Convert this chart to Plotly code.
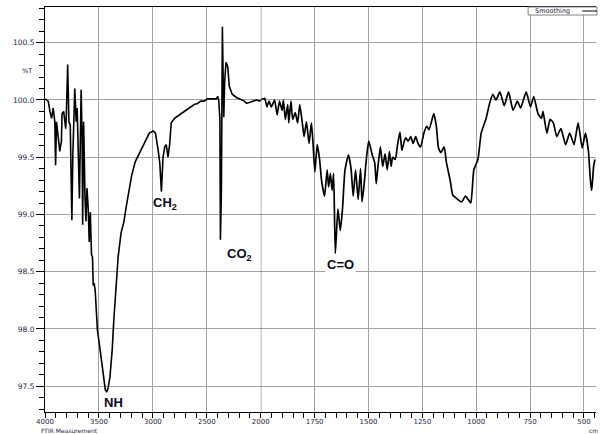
import plotly.graph_objects as go

# Segment 1 (4000-2000 cm-1)
wn_hi = [4000, 3970, 3954, 3939, 3924, 3909, 3902, 3893, 3879, 3863, 3848, 3842, 3827, 3808, 3802,
         3790, 3778, 3766, 3751, 3742, 3724, 3711, 3702, 3687, 3681, 3665, 3656, 3651, 3642, 3629,
         3620, 3611, 3599, 3590, 3580, 3569, 3560, 3553, 3545, 3535, 3523, 3514, 3498, 3483, 3468,
         3453, 3441, 3428, 3416, 3398, 3377, 3362, 3346, 3322, 3295, 3270, 3252, 3225, 3197, 3164,
         3118, 3073, 3033, 2997, 2976, 2951, 2936, 2921, 2906, 2890, 2876, 2860, 2845, 2830, 2799,
         2769, 2739, 2708, 2678, 2648, 2617, 2586, 2556, 2525, 2495, 2465, 2434, 2413, 2398, 2389,
         2379, 2374, 2365, 2356, 2347, 2343, 2334, 2322, 2306, 2292, 2265, 2242, 2222, 2199, 2176,
         2153, 2131, 2103, 2069, 2039, 2009, 2000]
t_hi = [100.01, 99.99, 99.90, 99.84, 99.93, 99.81, 99.43, 99.81, 99.69, 99.55, 99.64, 99.88, 99.90, 99.75, 99.87,
        100.31, 99.81, 99.78, 98.95, 99.52, 100.10, 99.81, 99.93, 99.29, 99.14, 100.09, 99.67, 98.91, 99.81, 99.14,
        98.94, 99.23, 99.05, 98.76, 99.02, 98.65, 98.63, 98.38, 98.40, 98.34, 98.11, 97.99, 97.88, 97.77, 97.64,
        97.54, 97.47, 97.45, 97.48, 97.58, 97.82, 98.08, 98.34, 98.63, 98.84, 98.93, 99.04, 99.20, 99.34, 99.46,
        99.55, 99.64, 99.71, 99.73, 99.71, 99.56, 99.45, 99.20, 99.50, 99.59, 99.61, 99.50, 99.61, 99.80, 99.84,
        99.86, 99.88, 99.90, 99.92, 99.94, 99.96, 99.97, 99.99, 99.99, 100.01, 100.01, 100.01, 100.01, 100.03, 99.99,
        99.83, 98.78, 99.21, 100.64, 100.09, 99.85, 100.17, 100.33, 100.29, 100.12, 100.05, 100.03, 100.02, 100.01, 100.00,
        99.99, 99.97, 99.98, 99.99, 100.00, 99.99, 100.00]

# Segment 2 (2000-444 cm-1)
wn_lo = [2000, 1990, 1982, 1971, 1962, 1951, 1936, 1924, 1913, 1901, 1895, 1886, 1875, 1870, 1860,
         1852, 1840, 1829, 1819, 1806, 1799, 1788, 1776, 1765, 1758, 1749, 1738, 1727, 1718, 1704,
         1692, 1685, 1677, 1669, 1662, 1654, 1642, 1631, 1621, 1609, 1593, 1581, 1571, 1560, 1548,
         1537, 1530, 1520, 1509, 1499, 1484, 1471, 1464, 1456, 1445, 1434, 1423, 1413, 1403, 1395,
         1388, 1376, 1365, 1354, 1345, 1334, 1327, 1316, 1304, 1293, 1281, 1270, 1258, 1243, 1230,
         1219, 1197, 1185, 1175, 1164, 1149, 1138, 1121, 1109, 1091, 1068, 1050, 1037, 1025, 1011,
         992, 977, 954, 938, 923, 908, 890, 870, 850, 829, 809, 794, 768, 748, 733,
         713, 697, 690, 672, 657, 642, 626, 607, 585, 566, 546, 527, 508, 493, 479,
         470, 464, 455, 449]
t_lo = [100.00, 100.01, 100.015, 99.94, 99.99, 99.94, 100.00, 99.87, 99.99, 99.91, 100.00, 99.83, 99.96, 99.80, 99.99,
        99.83, 99.89, 99.80, 99.96, 99.78, 99.68, 99.81, 99.62, 99.80, 99.64, 99.37, 99.61, 99.48, 99.30, 99.16,
        99.39, 99.24, 99.36, 99.21, 99.36, 98.66, 99.05, 98.86, 99.04, 99.39, 99.52, 99.40, 99.16, 99.39, 99.13,
        99.40, 99.11, 99.27, 99.50, 99.64, 99.53, 99.45, 99.27, 99.42, 99.59, 99.42, 99.53, 99.39, 99.55, 99.42,
        99.50, 99.48, 99.61, 99.72, 99.56, 99.64, 99.67, 99.64, 99.68, 99.62, 99.68, 99.62, 99.59, 99.71, 99.77,
        99.74, 99.88, 99.77, 99.58, 99.54, 99.59, 99.45, 99.30, 99.17, 99.14, 99.11, 99.16, 99.13, 99.10, 99.39,
        99.48, 99.71, 99.84, 99.97, 100.05, 100.00, 100.07, 99.95, 100.07, 99.91, 99.99, 99.93, 100.07, 99.94, 100.03,
        99.88, 99.84, 99.90, 99.71, 99.83, 99.80, 99.68, 99.75, 99.61, 99.71, 99.61, 99.80, 99.58, 99.71, 99.55,
        99.30, 99.21, 99.42, 99.48]

ticks_hi = [4000, 3500, 3000, 2500, 2000]
ticks_lo = [1750, 1500, 1250, 1000, 750, 500]
ticks_y = [97.5, 98.0, 98.5, 99.0, 99.5, 100.0, 100.5]

labels = [("NH", 3362, 97.36), ("CH<sub>2</sub>", 2887, 99.10),
          ("CO<sub>2</sub>", 2194, 98.65), ("C=O", 1631, 98.56)]

W, H = 605, 434
L, R, T, B = 45, 0, 7, 22
split = 219.3 / 560.0
tickfont = dict(family="DejaVu Sans", size=7.5, color="#1e1e46")
xtickfont = dict(family="DejaVu Sans", size=7, color="#1e1e46")
grid = "#a3a3a3"

fig = go.Figure()
fig.add_trace(go.Scatter(x=wn_hi, y=t_hi, mode="lines", xaxis="x", yaxis="y",
                         line=dict(color="#000000", width=1.6), showlegend=False, hoverinfo="skip"))
fig.add_trace(go.Scatter(x=wn_lo, y=t_lo, mode="lines", xaxis="x2", yaxis="y",
                         line=dict(color="#000000", width=1.7, shape="spline", smoothing=0.5),
                         showlegend=False, hoverinfo="skip"))

xcommon = dict(showline=True, linecolor="#000000", linewidth=1, mirror=True,
               ticks="outside", ticklen=5, tickcolor="#000000", tickwidth=1,
               showgrid=True, gridcolor=grid, gridwidth=1, zeroline=False,
               tickfont=xtickfont, anchor="y", ticklabelstandoff=-2)

fig.update_layout(
    width=W, height=H,
    margin=dict(l=L, r=R, t=T, b=B),
    paper_bgcolor="white", plot_bgcolor="white",
    xaxis=dict(domain=[0, split], range=[4000, 2000], tickvals=ticks_hi,
               minor=dict(dtick=100, tick0=0, ticks="outside", ticklen=5, tickcolor="#000000", showgrid=False),
               **xcommon),
    xaxis2=dict(domain=[split, 1], range=[2000, 444], tickvals=ticks_lo,
                minor=dict(dtick=50, tick0=0, ticks="outside", ticklen=5, tickcolor="#000000", showgrid=False),
                **xcommon),
    yaxis=dict(range=[97.275, 100.812], tickvals=ticks_y, tickformat=".1f",
               showline=True, linecolor="#000000", linewidth=1, anchor="x",
               ticks="outside", ticklen=8, tickcolor="#000000",
               minor=dict(dtick=0.1, tick0=0, ticks="outside", ticklen=5, tickcolor="#000000", showgrid=False),
               showgrid=True, gridcolor=grid, gridwidth=1, zeroline=False, tickfont=tickfont),
)

# darker divider at 2000
fig.add_shape(type="line", xref="x2", yref="paper", x0=2000, x1=2000, y0=0, y1=1,
              line=dict(color="#555555", width=1))

for text, xv, yv in labels:
    ax = "x2" if xv < 2000 else "x"
    fig.add_annotation(x=xv, y=yv, xref=ax, yref="y", text=text, showarrow=False,
                       font=dict(family="Liberation Sans", size=13, color="#0a0a1a", weight="bold"),
                       bgcolor="white" if text == "C=O" else "rgba(0,0,0,0)", borderpad=1)

small = dict(family="DejaVu Sans", size=6.5, color="#1e1e46")
tiny = dict(family="DejaVu Sans", size=6, color="#1e1e46")
fig.add_annotation(xref="paper", yref="paper", x=(27 - L) / 560, y=(412 - 71) / 405, text="%T",
                   showarrow=False, font=small, xanchor="center", yanchor="middle")
fig.add_annotation(xref="paper", yref="paper", x=(40 - L) / 560, y=(412 - 435) / 405,
                   text="FTIR Measurement", showarrow=False, font=tiny, xanchor="left", yanchor="bottom",
                   borderpad=0)
fig.add_annotation(xref="paper", yref="paper", x=(597 - L) / 560, y=(412 - 435) / 405,
                   text="cm", showarrow=False, font=tiny, xanchor="left", yanchor="bottom", borderpad=0)

# "Smoothing" legend box
fig.add_shape(type="rect", xref="paper", yref="paper",
              x0=(536 - L) / 560, x1=(606 - L) / 560, y0=(412 - 15) / 405, y1=(412 - 7) / 405,
              line=dict(color="#808080", width=1), fillcolor="white")
fig.add_shape(type="line", xref="paper", yref="paper",
              x0=(591 - L) / 560, x1=(606 - L) / 560, y0=(412 - 11) / 405, y1=(412 - 11) / 405,
              line=dict(color="#000000", width=1))
fig.add_annotation(xref="paper", yref="paper", x=(541 - L) / 560, y=(412 - 11) / 405,
                   text="Smoothing", showarrow=False, font=small, xanchor="left", yanchor="middle")

fig.write_html("out.html")
